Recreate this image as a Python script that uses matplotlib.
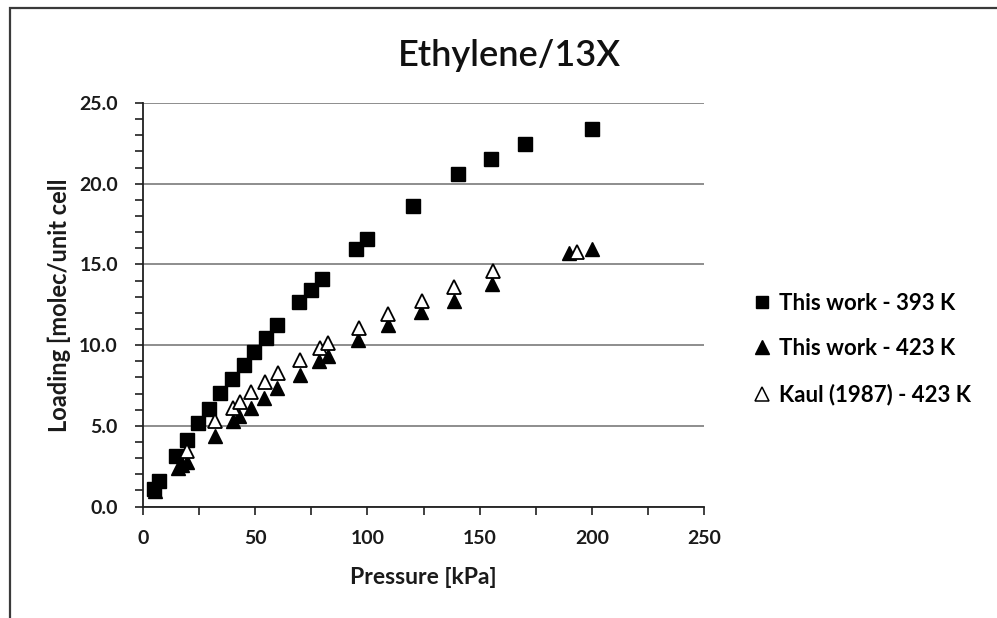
import matplotlib
matplotlib.use("Agg")
import matplotlib.pyplot as plt
from matplotlib.lines import Line2D
from matplotlib.patches import Rectangle
from matplotlib.ticker import MultipleLocator, FormatStrFormatter

plt.rcParams['font.family'] = ['Lato', 'DejaVu Sans']

# Ethylene loading on 13X zeolite
p_393 = [4.8, 7.1, 14.5, 19.6, 24.7, 29.5, 34.4, 39.7, 44.9, 49.4, 54.6, 59.9,
         69.6, 74.9, 79.9, 95.0, 100.0, 120.2, 140.3, 155.3, 170.3, 200.2]
q_393 = [1.10, 1.55, 3.10, 4.13, 5.17, 6.03, 7.02, 7.89, 8.76, 9.55, 10.43, 11.24,
         12.64, 13.39, 14.09, 15.95, 16.59, 18.63, 20.58, 21.51, 22.44, 23.37]

p_423 = [5.5, 15.7, 17.5, 19.5, 31.9, 40.1, 42.7, 48.2, 53.9, 59.9, 69.8, 78.6,
         82.3, 95.8, 109.2, 123.9, 138.4, 155.6, 190.0, 200.2]
q_423 = [0.95, 2.36, 2.60, 2.78, 4.34, 5.27, 5.58, 6.10, 6.71, 7.33, 8.16, 8.99,
         9.30, 10.33, 11.25, 12.07, 12.75, 13.79, 15.69, 15.95]

p_kaul = [19.8, 31.9, 40.1, 43.1, 48.2, 54.3, 60.3, 70.1, 78.9, 82.6, 96.1,
          109.4, 124.4, 138.7, 155.9, 193.3]
q_kaul = [3.45, 5.27, 6.10, 6.47, 7.07, 7.71, 8.26, 9.09, 9.81, 10.12, 11.05,
          11.94, 12.76, 13.58, 14.61, 15.75]

labels = ["This work - 393 K", "This work - 423 K", "Kaul (1987) - 423 K"]

fig = plt.figure(figsize=(9.97, 6.18), dpi=100)
ax = fig.add_axes([143 / 997, 1 - 506.5 / 618, (704 - 143) / 997, (506.5 - 103) / 618])

# outer chart border (left and top edges inside the canvas)
fig.add_artist(Rectangle((10 / 997, -0.2), 1.2, 1.2 - 8 / 618,
                         transform=fig.transFigure, fill=False,
                         edgecolor='#3a3a3a', linewidth=1.6))

ax.set_xlim(0, 250)
ax.set_ylim(0, 25)
ax.yaxis.grid(True, color='#858585', linewidth=1.3)
ax.set_axisbelow(True)
for s in ['top', 'right']:
    ax.spines[s].set_visible(False)
for s in ['left', 'bottom']:
    ax.spines[s].set_color('#202020')
    ax.spines[s].set_linewidth(1.3)

ax.xaxis.set_major_locator(MultipleLocator(50))
ax.xaxis.set_minor_locator(MultipleLocator(25))
ax.yaxis.set_major_locator(MultipleLocator(5))
ax.yaxis.set_minor_locator(MultipleLocator(1))
ax.yaxis.set_major_formatter(FormatStrFormatter('%.1f'))
ax.tick_params(which='both', direction='out', color='#202020', width=1.2)
ax.tick_params(which='major', length=6, labelsize=14)
ax.tick_params(axis='x', which='major', pad=11)
ax.tick_params(axis='y', which='major', pad=12)
ax.tick_params(which='minor', length=6)
for lab in ax.get_xticklabels() + ax.get_yticklabels():
    lab.set_fontweight('bold')
    lab.set_color('#1a1a1a')

ms = 9.5
ax.plot(p_393, q_393, linestyle='none', marker='s', markersize=ms,
        color='black', clip_on=False)
ax.plot(p_423, q_423, linestyle='none', marker='^', markersize=ms + 1,
        color='black', clip_on=False)
ax.plot(p_kaul, q_kaul, linestyle='none', marker='^', markersize=ms + 1,
        markerfacecolor='white', markeredgecolor='black', markeredgewidth=1.3,
        clip_on=False)

ax.set_xlabel("Pressure [kPa]", fontsize=16.5, fontweight='bold', labelpad=14,
              color='#1a1a1a')
ax.set_ylabel("Loading [molec/unit cell", fontsize=17, fontweight='bold',
              labelpad=6, color='#1a1a1a')
fig.text(509 / 997, 1 - 66.5 / 618, "Ethylene/13X", fontsize=26,
         fontweight='semibold', ha='center', va='baseline', color='#111111')

handles = [
    Line2D([], [], linestyle='none', marker='s', markersize=8.5, color='black'),
    Line2D([], [], linestyle='none', marker='^', markersize=9.5, color='black'),
    Line2D([], [], linestyle='none', marker='^', markersize=9.5,
           markerfacecolor='white', markeredgecolor='black', markeredgewidth=1.1),
]
leg = fig.legend(handles, labels, loc='center left',
                 bbox_to_anchor=(733 / 997, 1 - 349 / 618), frameon=False,
                 handlelength=0.8, handletextpad=0.35, labelspacing=1.1,
                 prop={'size': 16, 'weight': 'bold'})

fig.savefig("out.png", dpi=100)
